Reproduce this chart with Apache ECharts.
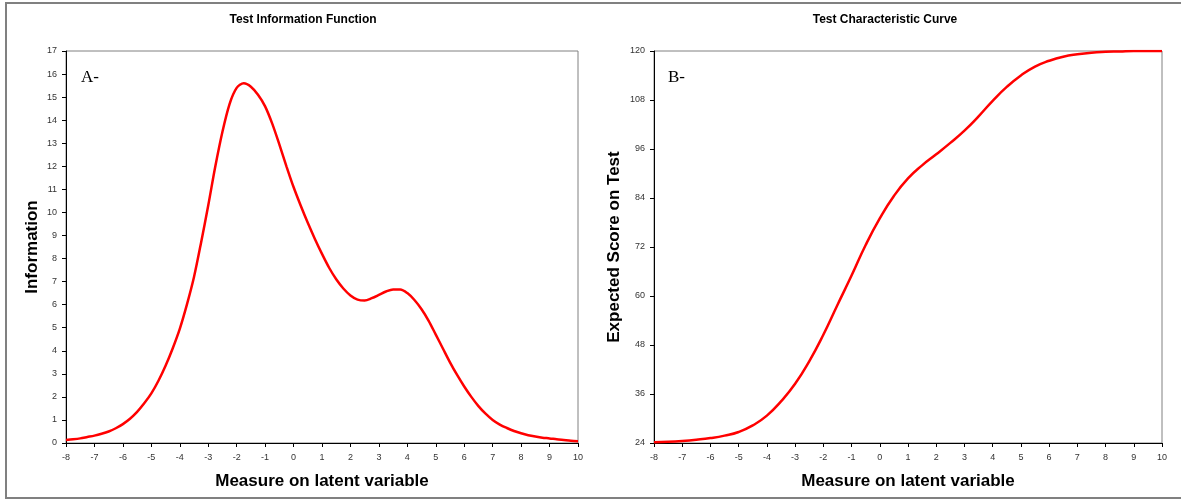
<!DOCTYPE html>
<html>
<head>
<meta charset="utf-8">
<script src="https://cdn.jsdelivr.net/npm/echarts@6/dist/echarts.min.js"></script>
<style>
html,body{margin:0;padding:0;background:#fff;}
#main{width:1181px;height:501px;}
</style>
</head>
<body>
<div id="main"></div>
<script>
// 潜变量刻度（A图步长0.25）
var thetaA = [-8,-7.75,-7.5,-7.25,-7,-6.75,-6.5,-6.25,-6,
	-5.75,-5.5,-5.25,-5,-4.75,-4.5,-4.25,-4,
	-3.75,-3.5,-3.25,-3,-2.75,-2.5,-2.25,-2,
	-1.75,-1.5,-1.25,-1,-0.75,-0.5,-0.25,0,
	0.25,0.5,0.75,1,1.25,1.5,1.75,2,
	2.25,2.5,2.75,3,3.25,3.5,3.75,4,
	4.25,4.5,4.75,5,5.25,5.5,5.75,6,
	6.25,6.5,6.75,7,7.25,7.5,7.75,8,
	8.25,8.5,8.75,9,9.25,9.5,9.75,10];
// 测验信息函数
var information = [0.13,0.16,0.2,0.26,0.32,0.4,0.5,0.64,0.82,
	1.05,1.35,1.72,2.15,2.7,3.35,4.1,4.95,
	6.0,7.2,8.7,10.3,12.0,13.5,14.7,15.4,
	15.6,15.45,15.1,14.6,13.85,12.95,12.0,11.1,
	10.3,9.55,8.85,8.2,7.6,7.1,6.7,6.4,
	6.22,6.18,6.28,6.42,6.57,6.66,6.66,6.5,
	6.2,5.8,5.3,4.7,4.1,3.5,2.95,2.45,
	2.0,1.6,1.27,1.0,0.8,0.65,0.52,0.42,
	0.34,0.28,0.23,0.2,0.16,0.13,0.1,0.08];

// 潜变量刻度（B图步长0.5）
var thetaB = [-8,-7.5,-7,-6.5,-6,-5.5,-5,-4.5,-4,-3.5,-3,-2.5,-2,-1.5,-1,-0.5,0,0.5,1,1.5,2,2.5,3,3.5,4,4.5,5,5.5,6,6.5,7,7.5,8,8.5,9,9.5,10];
// 测验特征曲线
var expectedScore = [24.2,24.3,24.5,24.8,25.2,25.8,26.7,28.3,30.7,34.2,38.5,44,50.5,57.8,65,72.5,79,84.5,88.8,92,94.7,97.5,100.5,104,107.8,111.2,114,116.2,117.6,118.6,119.2,119.6,119.8,119.9,120,120,120];

var xTicks = {min:-8, max:10, interval:1};
var yTicksA = {min:0, max:17, interval:1};
var yTicksB = {min:24, max:120, interval:12};

function pairs(xs, ys){
	var out=[];
	for(var i=0;i<xs.length;i++){ out.push([xs[i],ys[i]]); }
	return out;
}

var axisNameStyle = {fontFamily:'Liberation Sans', fontSize:17, fontWeight:'bold', color:'#000'};
var axisLine = {show:true, onZero:false, lineStyle:{color:'#000', width:1}};
var axisTick = {show:true, length:4, lineStyle:{color:'#000'}};

function xAxisOf(grid){
	return {
		type:'value', gridIndex:grid, min:xTicks.min, max:xTicks.max, interval:xTicks.interval,
		axisLine:axisLine, axisTick:axisTick,
		axisLabel:{fontFamily:'Liberation Sans', fontSize:9, color:'#333', margin:10},
		splitLine:{show:false},
		name:'Measure on latent variable', nameLocation:'middle', nameGap:30, nameTextStyle:axisNameStyle
	};
}
function yAxisOf(grid, t, name, gap){
	return {
		type:'value', gridIndex:grid, min:t.min, max:t.max, interval:t.interval,
		axisLine:axisLine, axisTick:axisTick,
		axisLabel:{fontFamily:'Liberation Sans', fontSize:9, color:'#333', margin:9},
		splitLine:{show:false},
		name:name, nameLocation:'middle', nameGap:gap, nameTextStyle:axisNameStyle
	};
}

var myChart = echarts.init(document.getElementById('main'), null, {renderer:'canvas'});
var option = {
	animation:false,
	backgroundColor:'#fff',
	title:[
		{text:'Test Information Function', left:298, top:9, textAlign:'center',
		 textStyle:{fontFamily:'Liberation Sans', fontSize:12, fontWeight:'bold', color:'#000'}},
		{text:'Test Characteristic Curve', left:880, top:9, textAlign:'center',
		 textStyle:{fontFamily:'Liberation Sans', fontSize:12, fontWeight:'bold', color:'#000'}}
	],
	grid:[
		{left:66, top:51, width:512, height:392, show:true, borderColor:'#808080', borderWidth:1, backgroundColor:'#fff'},
		{left:654, top:51, width:508, height:392, show:true, borderColor:'#808080', borderWidth:1, backgroundColor:'#fff'}
	],
	xAxis:[xAxisOf(0), xAxisOf(1)],
	yAxis:[
		yAxisOf(0, yTicksA, 'Information', 25),
		yAxisOf(1, yTicksB, 'Expected Score on Test', 31)
	],
	series:[
		{type:'line', xAxisIndex:0, yAxisIndex:0, data:pairs(thetaA, information), smooth:0.3,
		 showSymbol:false, lineStyle:{color:'#ff0000', width:2.5}},
		{type:'line', xAxisIndex:1, yAxisIndex:1, data:pairs(thetaB, expectedScore), smooth:0.5,
		 showSymbol:false, lineStyle:{color:'#ff0000', width:2.5}}
	],
	graphic:[
		{type:'rect', shape:{x:6, y:3, width:1190, height:495}, style:{fill:'none', stroke:'#808080', lineWidth:2}, silent:true},
		{type:'text', left:81, top:69, style:{text:'A-', fontFamily:'Liberation Serif', fontSize:17, fill:'#000'}},
		{type:'text', left:668, top:69, style:{text:'B-', fontFamily:'Liberation Serif', fontSize:17, fill:'#000'}}
	]
};
myChart.setOption(option);
</script>
</body>
</html>
